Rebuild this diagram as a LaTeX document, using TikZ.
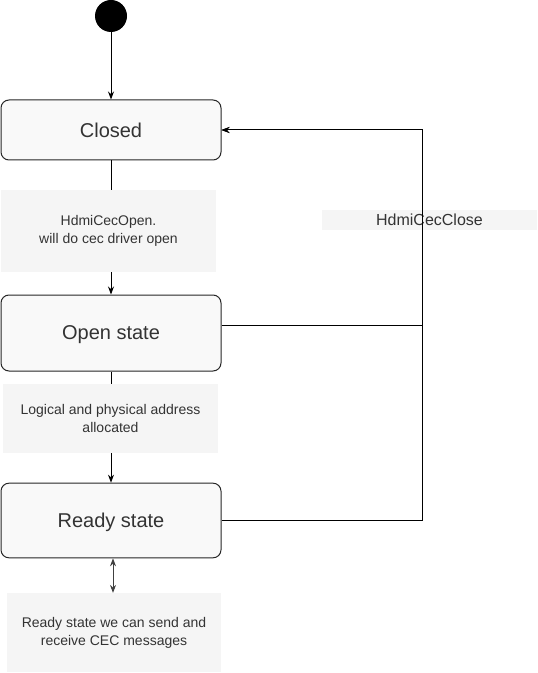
\documentclass[tikz,border=0pt]{standalone}
\usepackage{fontspec}
\setmainfont{Liberation Sans}
\usetikzlibrary{arrows.meta}
\definecolor{txtgray}{HTML}{333333}
\definecolor{statefill}{HTML}{F9F9F9}
\definecolor{lblfill}{HTML}{F5F5F5}
\tikzset{
  statebox/.style={draw=black!85, fill=statefill, rounded corners=6pt, line width=0.75pt,
    minimum width=165pt, inner sep=0pt, text=txtgray, text depth=0pt,
    font=\fontsize{15}{18}\selectfont},
  lblbox/.style={fill=lblfill, inner sep=0pt, text=txtgray, align=center,
    font=\fontsize{10.5}{13.5}\selectfont},
  edge/.style={line width=0.75pt, -{Stealth[length=6pt,width=4.5pt]}}
}
\begin{document}
\begin{tikzpicture}[x=0.75pt,y=-0.75pt]
\useasboundingbox (0,0) rectangle (537,673);
% states
\node[fill=black, circle, inner sep=0pt, minimum size=24pt] (start) at (111,16) {};
\node[statebox, minimum height=45pt] (closed) at (111,130) {Closed};
\node[statebox, minimum height=57pt] (open) at (111,333) {Open state};
\node[statebox, minimum height=56pt] (ready) at (111,520.5) {Ready state};
% labels
\node[lblbox, minimum width=161pt, minimum height=61.5pt] (lblopen) at (108.5,231) {HdmiCecOpen.\\will do cec driver open};
\node[lblbox, minimum width=161pt, minimum height=52pt] (lbladdr) at (110.5,418.5) {Logical and physical address\\allocated};
\node[lblbox, minimum width=160pt, minimum height=59pt] (lblready) at (114,632.5) {Ready state we can send and\\receive CEC messages};
\node[lblbox, minimum width=161pt, minimum height=15pt, font=\fontsize{12}{14}\selectfont] (lblclose) at (429.5,220) {HdmiCecClose};
\coordinate (bus) at (422,130);
% transitions
\draw[edge] (start) -- (closed);
\draw[line width=0.75pt] (closed.south) -- (closed.south |- lblopen.north);
\draw[edge] (open.north |- lblopen.south) -- (open.north);
\draw[line width=0.75pt] (open.south) -- (open.south |- lbladdr.north);
\draw[edge] (ready.north |- lbladdr.south) -- (ready.north);
\draw[edge] ([yshift=6pt]open.east) -| (bus) -- (closed.east);
\draw[edge] (ready.east) -| (bus) -- (closed.east);
\draw[line width=0.75pt, black!75, {Stealth[length=6pt,width=4.5pt]}-{Stealth[length=6pt,width=4.5pt]}]
  ([xshift=-0.75pt]lblready.north |- ready.south) -- ([xshift=-0.75pt]lblready.north);
\end{tikzpicture}
\end{document}
